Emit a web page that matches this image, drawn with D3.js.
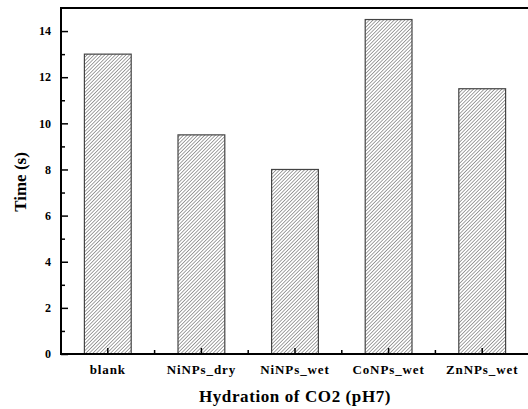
<!DOCTYPE html>
<html lang="en">
<head>
    <meta charset="UTF-8">
    <title>Hydration of CO2</title>
    <script src="https://d3js.org/d3.v7.min.js"></script>
    <style>
        body { margin: 0; background: #fff; }
        text { font-family: "Liberation Serif", "Times New Roman", serif; font-weight: bold; }
    </style>
</head>
<body>
    <div id="chart"></div>
    <script>
        // data
        const categories = ["blank", "NiNPs_dry", "NiNPs_wet", "CoNPs_wet", "ZnNPs_wet"];
        const times = [13, 9.5, 8, 14.5, 11.5];
        const yTicks = [0, 2, 4, 6, 8, 10, 12, 14];

        const W = 528, H = 409;
        const mLeft = 61, mTop = 8, plotW = 468, mBottom = 354;

        const svg = d3.select("#chart").append("svg")
            .attr("width", W).attr("height", H);

        // hatch pattern
        const hs = 2.5;
        const pat = svg.append("defs").append("pattern")
            .attr("id", "hatch")
            .attr("patternUnits", "userSpaceOnUse")
            .attr("width", hs).attr("height", hs)
            .attr("patternTransform", "rotate(45)");
        pat.append("rect").attr("width", hs).attr("height", hs).attr("fill", "#fff");
        pat.append("line").attr("x1", 0).attr("y1", 0).attr("x2", 0).attr("y2", hs)
            .attr("stroke", "#333").attr("stroke-width", 0.9);

        const x = d3.scaleBand().domain(categories).range([mLeft, mLeft + plotW]).paddingInner(0.5).paddingOuter(0.25);
        const y = d3.scaleLinear().domain([0, 15]).range([mBottom, mTop]);

        // bars
        svg.selectAll("rect.bar")
            .data(categories)
            .enter()
            .append("rect")
            .attr("class", "bar")
            .attr("x", d => x(d))
            .attr("y", (d, i) => y(times[i]))
            .attr("width", x.bandwidth())
            .attr("height", (d, i) => mBottom - y(times[i]))
            .attr("fill", "url(#hatch)")
            .attr("stroke", "#444")
            .attr("stroke-width", 1.2);

        // y axis (ticks inside)
        svg.append("g").attr("transform", `translate(${mLeft},0)`)
            .call(d3.axisRight(y).tickValues(yTicks).tickSize(7).tickFormat(""))
            .call(g => g.select(".domain").remove())
            .selectAll("line").attr("stroke", "#000").attr("stroke-width", 1.5);

        svg.append("g").attr("transform", `translate(${mLeft},0)`)
            .call(d3.axisRight(y).tickValues(d3.range(1, 15, 2)).tickSize(4).tickFormat(""))
            .call(g => g.select(".domain").remove())
            .selectAll("line").attr("stroke", "#000").attr("stroke-width", 1.5);

        svg.append("g").selectAll("text")
            .data(yTicks)
            .enter()
            .append("text")
            .attr("x", mLeft - 10)
            .attr("y", d => y(d))
            .attr("dy", "0.35em")
            .attr("text-anchor", "end")
            .attr("font-size", 12)
            .text(d => d);

        // x ticks (inside), at centres and between categories
        svg.append("g").selectAll("line")
            .data(categories)
            .enter()
            .append("line")
            .attr("x1", d => x(d) + x.bandwidth() / 2)
            .attr("x2", d => x(d) + x.bandwidth() / 2)
            .attr("y1", mBottom).attr("y2", mBottom - 6)
            .attr("stroke", "#000").attr("stroke-width", 1.5);
        svg.append("g").selectAll("line")
            .data(categories.slice(1))
            .enter()
            .append("line")
            .attr("x1", d => x(d) - x.step() / 4)
            .attr("x2", d => x(d) - x.step() / 4)
            .attr("y1", mBottom).attr("y2", mBottom - 4)
            .attr("stroke", "#000").attr("stroke-width", 1.5);

        svg.append("g").selectAll("text")
            .data(categories)
            .enter()
            .append("text")
            .attr("x", d => x(d) + x.bandwidth() / 2)
            .attr("y", 374)
            .attr("text-anchor", "middle")
            .attr("font-size", 13)
            .attr("letter-spacing", 0.9)
            .text(d => d);

        // frame
        svg.append("path")
            .attr("d", `M${mLeft + plotW + 5},${mTop} H${mLeft} V${mBottom} H${mLeft + plotW + 5}`)
            .attr("fill", "none").attr("stroke", "#000").attr("stroke-width", 2);

        // axis titles
        svg.append("text")
            .attr("x", 295).attr("y", 402)
            .attr("text-anchor", "middle")
            .attr("font-size", 17)
            .attr("letter-spacing", 0.6)
            .text("Hydration of CO2 (pH7)");

        svg.append("text")
            .attr("transform", `translate(26,${(mTop + mBottom) / 2 + 1}) rotate(-90)`)
            .attr("text-anchor", "middle")
            .attr("font-size", 17)
            .text("Time (s)");
    </script>
</body>
</html>
